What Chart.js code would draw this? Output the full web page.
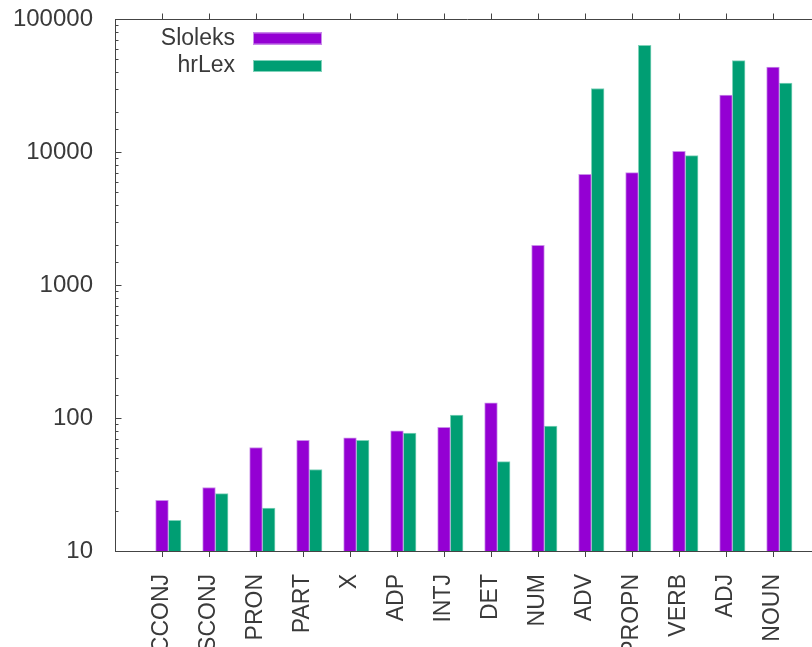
<!DOCTYPE html>
<html>
<head>
<meta charset="utf-8">
<script src="https://cdn.jsdelivr.net/npm/chart.js@4/dist/chart.umd.min.js"></script>
<style>
  html, body { margin: 0; padding: 0; overflow: hidden; background: #fff; }
  #wrap { width: 820px; height: 647px; }
</style>
</head>
<body>
<div id="wrap"><canvas id="c" width="820" height="647"></canvas></div>
<script>
// Lexicon entries per universal POS tag (log scale)
const categories = ['CCONJ', 'SCONJ', 'PRON', 'PART', 'X', 'ADP', 'INTJ', 'DET', 'NUM', 'ADV', 'PROPN', 'VERB', 'ADJ', 'NOUN'];
const sloleks = [24, 30, 60, 68, 71, 80, 85, 130, 1990, 6800, 7000, 10100, 26800, 43500];
const hrlex   = [17, 27, 21, 41, 68, 77, 105, 47, 87, 30000, 63500, 9400, 48700, 33000];
const seriesNames = ['Sloleks', 'hrLex'];

const INK = '#3a3a3a';
const AXIS = '#444444';
const FONT = '"Liberation Sans", Arial, Helvetica, sans-serif';
const PAIR_SHIFT = 0.27; // second bar of a pair sits right next to the first

function isDecade(v) {
  const e = Math.round(Math.log10(v));
  return Math.abs(v - Math.pow(10, e)) < 1e-6;
}

// Mirrored top border with outward ticks, inward y ticks, and a key
const frame = {
  id: 'frame',
  afterDraw(chart) {
    const { ctx, chartArea: a, scales: { x, y } } = chart;
    ctx.save();
    ctx.strokeStyle = AXIS;
    ctx.lineWidth = 1;
    ctx.beginPath();
    const top = Math.round(a.top) + 0.5;
    ctx.moveTo(a.left, top);
    ctx.lineTo(a.right, top);
    x.ticks.forEach(t => {
      const px = Math.round(x.getPixelForValue(t.value)) + 0.5;
      ctx.moveTo(px, top);
      ctx.lineTo(px, top - 6);
    });
    const left = Math.round(a.left) + 0.5;
    y.ticks.forEach(t => {
      const py = Math.round(y.getPixelForValue(t.value)) + 0.5;
      ctx.moveTo(left, py);
      ctx.lineTo(left + (isDecade(t.value) ? 6 : 3), py);
    });
    ctx.stroke();

    // key
    ctx.font = '23px ' + FONT;
    ctx.textAlign = 'right';
    ctx.textBaseline = 'middle';
    chart.data.datasets.forEach((ds, i) => {
      const cy = 38.5 + i * 27.5;
      ctx.fillStyle = INK;
      ctx.fillText(ds.label, 235, cy);
      ctx.fillStyle = ds.backgroundColor;
      ctx.fillRect(253, cy - 6, 69, 12);
      ctx.strokeStyle = ds.borderColor;
      ctx.strokeRect(253.5, cy - 5.5, 68, 11);
    });
    ctx.restore();
  }
};

new Chart(document.getElementById('c'), {
  type: 'bar',
  data: {
    datasets: [
      {
        label: seriesNames[0],
        data: sloleks.map((v, i) => ({ x: i, y: v })),
        backgroundColor: '#9400d3',
        borderColor: '#c98ee9',
        borderWidth: 1,
        borderSkipped: 'bottom'
      },
      {
        label: seriesNames[1],
        data: hrlex.map((v, i) => ({ x: i + PAIR_SHIFT, y: v })),
        backgroundColor: '#009e73',
        borderColor: '#80d2ba',
        borderWidth: 1,
        borderSkipped: 'bottom'
      }
    ]
  },
  options: {
    responsive: false,
    animation: false,
    devicePixelRatio: 1,
    datasets: { bar: { grouped: false, barPercentage: 1, categoryPercentage: 1 } },
    layout: { padding: { top: 19, left: 0, right: 0, bottom: 0 } },
    plugins: { legend: { display: false }, tooltip: { enabled: false } },
    scales: {
      x: {
        type: 'linear',
        min: -1,
        max: 14,
        offset: false,
        afterBuildTicks: s => { s.ticks = categories.map((_, i) => ({ value: i })); },
        afterFit: s => { s.height = 96; s.paddingLeft = 0; s.paddingRight = 0; },
        ticks: {
          autoSkip: false,
          minRotation: 90,
          maxRotation: 90,
          padding: 17,
          color: INK,
          font: { family: FONT, size: 23 },
          callback: v => categories[v] ?? ''
        },
        grid: { offset: false, drawOnChartArea: false, tickLength: 6, color: AXIS, lineWidth: 1 },
        border: { color: AXIS, width: 1 }
      },
      y: {
        type: 'logarithmic',
        min: 10,
        max: 100000,
        afterFit: s => { s.width = 115; s.paddingTop = 0; s.paddingBottom = 0; },
        ticks: {
          autoSkip: false,
          padding: 22,
          color: INK,
          font: { family: FONT, size: 24 },
          callback: v => isDecade(v) ? String(Math.round(v)) : ''
        },
        grid: { drawOnChartArea: false, drawTicks: false },
        border: { color: AXIS, width: 1 }
      }
    }
  },
  plugins: [frame]
});
</script>
</body>
</html>
